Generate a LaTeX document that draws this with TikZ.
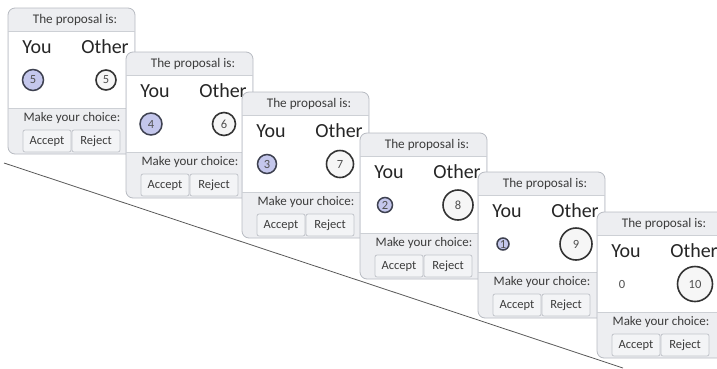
\documentclass[tikz,border=0pt]{standalone}
\usepackage{fontspec}
\setmainfont{Carlito}

\definecolor{cardgray}{HTML}{EDEEF1}
\definecolor{cardedge}{HTML}{B7BAC1}
\definecolor{sepgray}{HTML}{CDD0D5}
\definecolor{headtext}{HTML}{3C3C3C}
\definecolor{numtext}{HTML}{505050}
\definecolor{youfill}{HTML}{C4C7EC}
\definecolor{youedge}{HTML}{3E4150}
\definecolor{othfill}{HTML}{F6F6F6}
\definecolor{othedge}{HTML}{333333}
\definecolor{btnfill}{HTML}{F3F4F6}
\definecolor{btnedge}{HTML}{C2C5CB}

\begin{document}
\begin{tikzpicture}[x=1pt, y=-1pt,
    card/.style={fill=cardgray, draw=cardedge, line width=0.8pt, rounded corners=7pt},
    sep/.style={draw=sepgray, line width=0.8pt},
    head/.style={font=\fontsize{13.2}{15}\selectfont, text=headtext, inner sep=0pt},
    who/.style={font=\fontsize{20}{22}\selectfont, text=black!85, inner sep=0pt},
    youdot/.style={circle, fill=youfill, draw=youedge, line width=1.5pt, inner sep=0pt,
        font=\fontsize{12.5}{13}\selectfont, text=numtext},
    othdot/.style={circle, fill=othfill, draw=othedge, line width=1.6pt, inner sep=0pt,
        font=\fontsize{12.5}{13}\selectfont, text=numtext},
    nodot/.style={circle, inner sep=0pt, font=\fontsize{12.5}{13}\selectfont, text=numtext},
    btn/.style={draw=btnedge, fill=btnfill, rounded corners=2pt, line width=0.8pt,
        minimum width=48pt, minimum height=22pt, inner sep=0pt,
        font=\fontsize{12.5}{14}\selectfont, text=headtext}]

    \useasboundingbox (0,0) rectangle (717,368);
    \clip (0,0) rectangle (717,368);

    % Diagonal line behind the cards
    \coordinate (lineA) at (4,163);
    \coordinate (lineB) at (623,368);
    \draw[black!65, line width=0.8pt] (lineA) -- (lineB);

    % Proposal cards (left, top, You value, Other value, dot sizes, You style)
    \foreach \i/\cx/\cy/\yv/\ov/\yd/\od/\ys in {1/8/8/5/5/21/20/youdot,
            2/126/52/4/6/22/23/youdot, 3/242/92/3/7/19/27/youdot,
            4/360/133/2/8/15/30/youdot, 5/478/172/1/9/12/32/youdot,
            6/597/212/0/10/0/35/nodot} {
        \begin{scope}[shift={(\cx,\cy)}]
            % card body, white middle part
            \filldraw[card] (0,0) rectangle (127,146);
            \fill[white] (0.6,23) rectangle (126.4,100);
            \draw[sep] (0.4,23) -- (126.6,23);
            \draw[sep] (0.4,100) -- (126.6,100);

            % header
            \node[head] (head\i) at (67,12) {The proposal is:};

            % players and their shares
            \node[who] (you\i) at (29,39) {You};
            \node[who] (oth\i) at (97,39) {Other};
            \node[\ys, minimum size=\yd pt] (ydot\i) at (25,72) {\yv};
            \node[othdot, minimum size=\od pt] (odot\i) at (98,72) {\ov};

            % choice buttons
            \node[head, font=\fontsize{13}{15}\selectfont] (make\i) at (64,110) {Make your choice:};
            \node[btn] (acc\i) at (39,133) {Accept};
            \node[btn] (rej\i) at (88,133) {Reject};
        \end{scope}
    }

\end{tikzpicture}
\end{document}
